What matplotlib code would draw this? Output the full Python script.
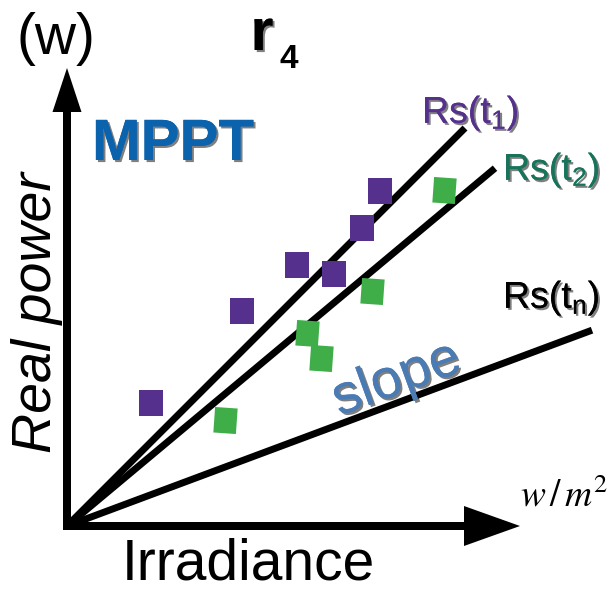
import numpy as np
import matplotlib
matplotlib.use('Agg')
import matplotlib.pyplot as plt
import matplotlib.patheffects as pe

plt.rcParams['font.family'] = 'Liberation Sans'
plt.rcParams['mathtext.fontset'] = 'custom'
plt.rcParams['mathtext.rm'] = 'Liberation Sans'
plt.rcParams['mathtext.it'] = 'Liberation Sans'
plt.rcParams['mathtext.bf'] = 'Liberation Sans:bold'

# data (irradiance vs real power, arbitrary units, origin at axes corner)
purple_x = [84, 175, 230, 267, 295, 313]
purple_y = [123, 215, 261, 252, 298, 335]
green_x = [158, 240, 254, 305, 377]
green_y = [106, 193, 168, 235, 336]

line_names = [r'Rs(t$\mathregular{_1}$)', r'Rs(t$\mathregular{_2}$)', r'Rs(t$\mathregular{_n}$)']
line_slopes = [1.0, 0.836, 0.373]
line_x_end = [398, 428, 525]

purple = '#55308d'
green = '#3fae49'
shadow = [pe.withSimplePatchShadow(offset=(1.5, -1.5), shadow_rgbFace='black', alpha=0.5), pe.Normal()]

fig = plt.figure(figsize=(6.09, 5.92), dpi=100)
ax = fig.add_axes([0, 0, 1, 1])
ax.set_xlim(-67, 542)
ax.set_ylim(-66, 526)
ax.axis('off')

# axes arrows
ax.arrow(-4, 0, 457, 0, width=8, head_width=40, head_length=56,
         length_includes_head=True, fc='black', ec='none')
ax.arrow(0, -4, 0, 462, width=8, head_width=29, head_length=44,
         length_includes_head=True, fc='black', ec='none')

# lines through origin
for s, xe in zip(line_slopes, line_x_end):
    ax.plot([0, xe], [0, s * xe], color='black', lw=5, solid_capstyle='butt')

# square markers
sq = [(-23, -26), (23, -26), (23, 26), (-23, 26), (-23, -26)]
a = np.deg2rad(-4)
gsq = [(x * np.cos(a) - y * np.sin(a), x * np.sin(a) + y * np.cos(a)) for x, y in sq]
ax.scatter(purple_x, purple_y, marker=sq, s=19.0**2, color=purple, lw=0, zorder=3)
ax.scatter(green_x, green_y, marker=gsq, s=19.5**2, color=green, lw=0, zorder=3)

# labels
ax.text(-11, 472, '(w)', fontsize=41, ha='center', va='baseline')
ax.text(195, 476, 'r', fontsize=42, fontweight='bold', ha='center', va='baseline',
        path_effects=shadow)
ax.text(222, 458, '4', fontsize=24, fontweight='bold', ha='center', va='baseline')
ax.text(106, 366, 'MPPT', fontsize=42, fontweight='bold', color='#0b63ae',
        ha='center', va='baseline', path_effects=shadow)
ax.text(-30, 213, 'Real power', fontsize=40, style='italic', rotation=90,
        ha='center', va='center')
ax.text(181, -54, 'Irradiance', fontsize=41, ha='center', va='baseline')

label_pos = [(355, 403), (436, 346), (436, 218)]
label_col = [purple, '#17735a', 'black']
for name, (lx, ly), c in zip(line_names, label_pos, label_col):
    ax.text(lx, ly, name, fontsize=27, color=c, ha='left', va='baseline',
            path_effects=shadow)

ax.text(330, 146, 'slope', fontsize=40, color='#4b7bb3', rotation=20,
        ha='center', va='center', rotation_mode='anchor', path_effects=shadow)
ax.text(497, 30, r'$w\,/\,m^2$', fontsize=27, math_fontfamily='stix',
        ha='center', va='center')

fig.savefig('out.png', dpi=100)
